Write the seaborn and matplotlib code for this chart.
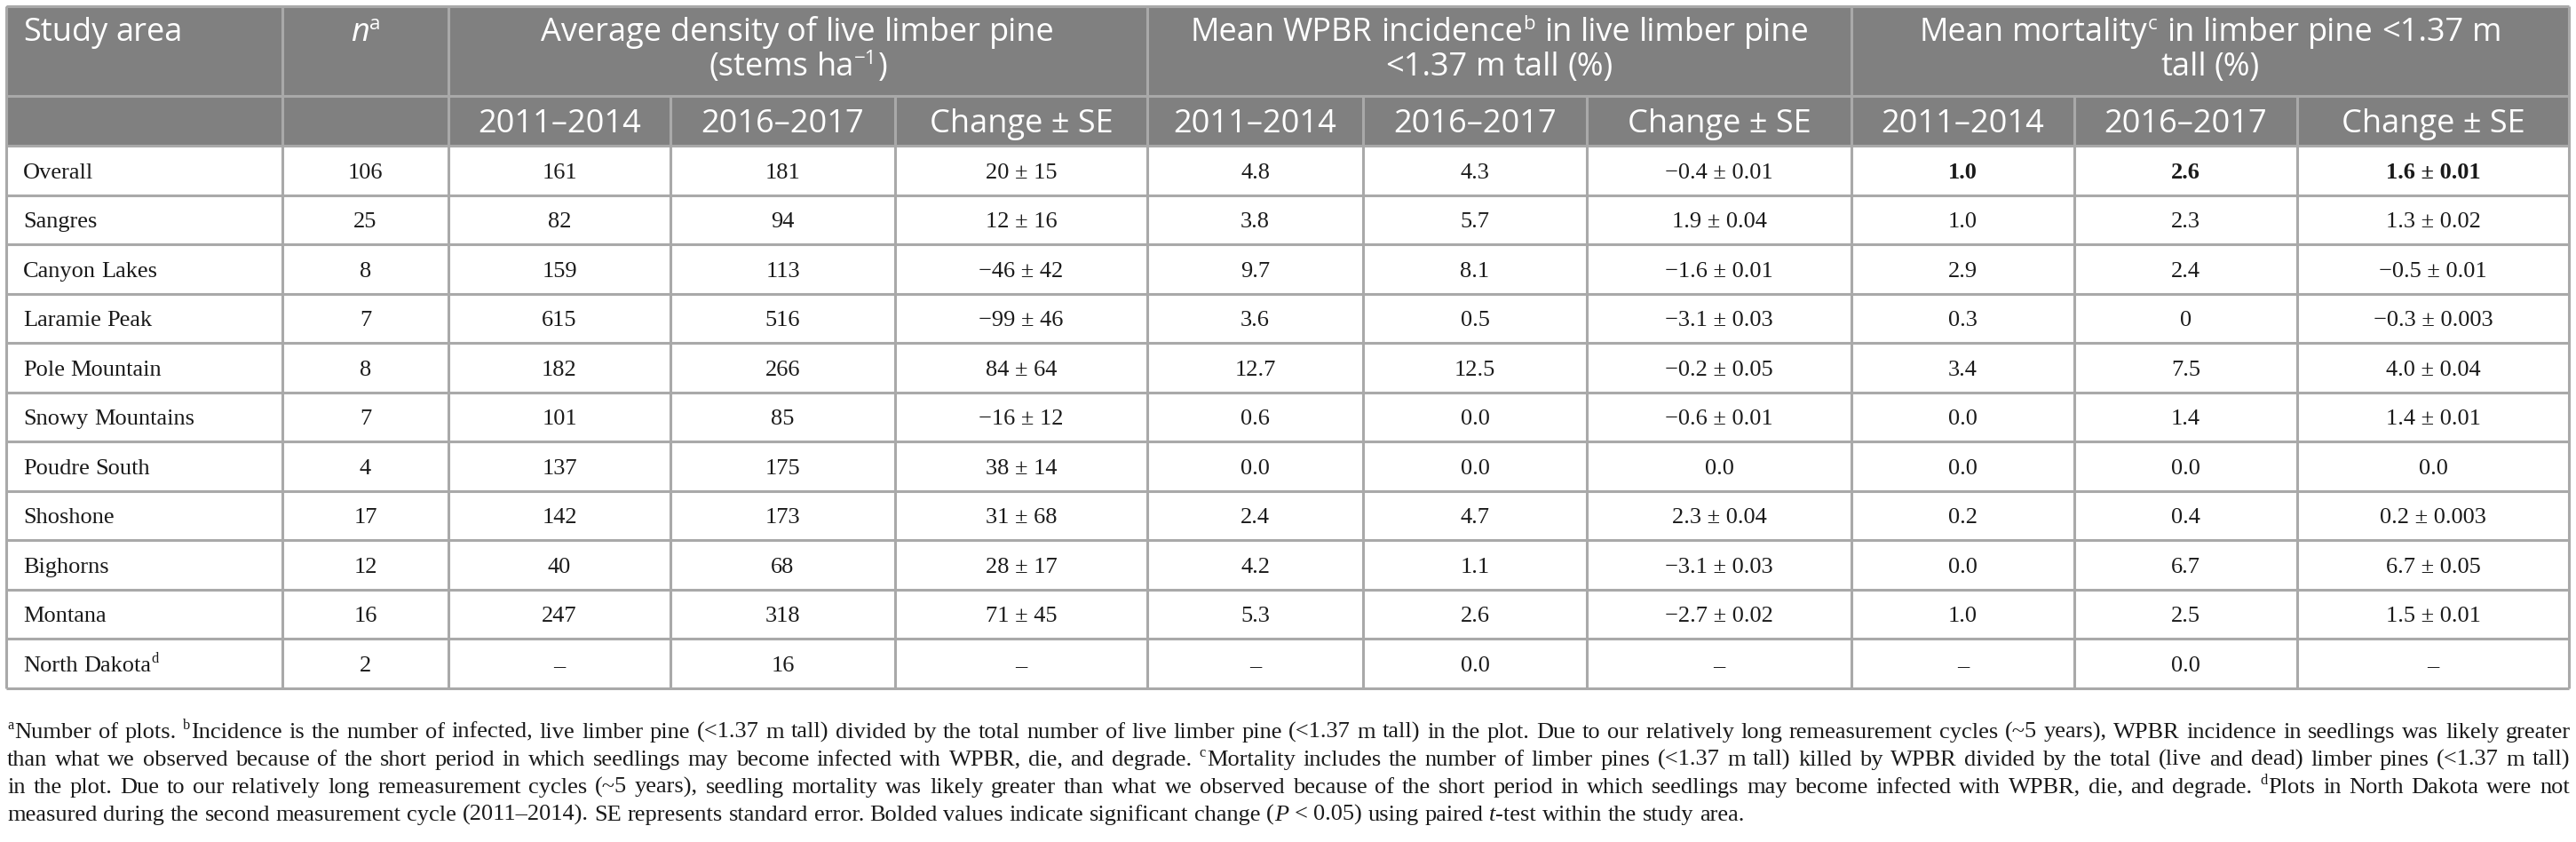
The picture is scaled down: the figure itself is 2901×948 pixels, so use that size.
import re
import numpy as np
import matplotlib
matplotlib.use('Agg')
import matplotlib.pyplot as plt
import seaborn as sns
from matplotlib.patches import Rectangle

# ---------------------------------------------------------------------------
# Data
# ---------------------------------------------------------------------------
study_areas = ['Overall', 'Sangres', 'Canyon Lakes', 'Laramie Peak', 'Pole Mountain',
               'Snowy Mountains', 'Poudre South', 'Shoshone', 'Bighorns', 'Montana',
               'North Dakota{d}']
n_plots = [106, 25, 8, 7, 8, 7, 4, 17, 12, 16, 2]

density_2011 = ['161', '82', '159', '615', '182', '101', '137', '142', '40', '247', '–']
density_2016 = ['181', '94', '113', '516', '266', '85', '175', '173', '68', '318', '16']
density_change = ['20 ± 15', '12 ± 16', '−46 ± 42', '−99 ± 46', '84 ± 64', '−16 ± 12',
                  '38 ± 14', '31 ± 68', '28 ± 17', '71 ± 45', '–']

incidence_2011 = ['4.8', '3.8', '9.7', '3.6', '12.7', '0.6', '0.0', '2.4', '4.2', '5.3', '–']
incidence_2016 = ['4.3', '5.7', '8.1', '0.5', '12.5', '0.0', '0.0', '4.7', '1.1', '2.6', '0.0']
incidence_change = ['−0.4 ± 0.01', '1.9 ± 0.04', '−1.6 ± 0.01', '−3.1 ± 0.03', '−0.2 ± 0.05',
                    '−0.6 ± 0.01', '0.0', '2.3 ± 0.04', '−3.1 ± 0.03', '−2.7 ± 0.02', '–']

mortality_2011 = ['1.0', '1.0', '2.9', '0.3', '3.4', '0.0', '0.0', '0.2', '0.0', '1.0', '–']
mortality_2016 = ['2.6', '2.3', '2.4', '0', '7.5', '1.4', '0.0', '0.4', '6.7', '2.5', '0.0']
mortality_change = ['1.6 ± 0.01', '1.3 ± 0.02', '−0.5 ± 0.01', '−0.3 ± 0.003', '4.0 ± 0.04',
                    '1.4 ± 0.01', '0.0', '0.2 ± 0.003', '6.7 ± 0.05', '1.5 ± 0.01', '–']

# (row, column) of bolded (significant) values
bold_cells = [(0, 8), (0, 9), (0, 10)]

group_headers = [
    ['Study area'],
    ['*n*{a}'],
    ['Average density of live limber pine', '(stems ha{−1})'],
    ['Mean WPBR incidence{b} in live limber pine', '<1.37 m tall (%)'],
    ['Mean mortality{c} in limber pine <1.37 m', 'tall (%)'],
]
sub_headers = ['2011–2014', '2016–2017', 'Change ± SE']

footnote_lines = [
    '{a}Number of plots. {b}Incidence is the number of infected, live limber pine (<1.37 m tall) '
    'divided by the total number of live limber pine (<1.37 m tall) in the plot. Due to our '
    'relatively long remeasurement cycles (~5 years), WPBR incidence in seedlings was likely greater',
    'than what we observed because of the short period in which seedlings may become infected with '
    'WPBR, die, and degrade. {c}Mortality includes the number of limber pines (<1.37 m tall) killed '
    'by WPBR divided by the total (live and dead) limber pines (<1.37 m tall)',
    'in the plot. Due to our relatively long remeasurement cycles (~5 years), seedling mortality was '
    'likely greater than what we observed because of the short period in which seedlings may become '
    'infected with WPBR, die, and degrade. {d}Plots in North Dakota were not',
    'measured during the second measurement cycle (2011–2014). SE represents standard error. Bolded '
    'values indicate significant change (*P* < 0.05) using paired *t*-test within the study area.',
]

# ---------------------------------------------------------------------------
# Layout (pixels)
# ---------------------------------------------------------------------------
W, H = 2901, 948
col_edges = [7, 318, 505, 755, 1008, 1292, 1535, 1787, 2085, 2336, 2587, 2893]
group_edges = [7, 318, 505, 1292, 2085, 2893]
top, head_mid, head_bot, bottom = 7, 108, 164, 775
row_edges = np.linspace(head_bot, bottom, len(study_areas) + 1)

HEAD_BG = '#808080'
LINE = '#a9a9a9'
LW = 2.2

sns.set_theme(style='white')
plt.rcParams['axes.unicode_minus'] = True

SANS = dict(fontfamily=['Open Sans', 'DejaVu Sans'], fontsize=26, color='white')
SERIF = dict(fontfamily=['Liberation Serif', 'DejaVu Serif'], fontsize=19, color='#1a1a1a')

fig = plt.figure(figsize=(W / 100, H / 100), dpi=100)
ax = fig.add_axes([0, 0, 1, 1])
ax.set_xlim(0, W)
ax.set_ylim(H, 0)
ax.axis('off')
renderer = fig.canvas.get_renderer()

TOKEN = re.compile(r'(\{[^}]*\}|\*[^*]*\*)')


def _parse_word(word):
    segs = []
    for part in TOKEN.split(word):
        if not part:
            continue
        if part.startswith('{'):
            segs.append((part[1:-1], 'sup'))
        elif part.startswith('*'):
            segs.append((part[1:-1], 'it'))
        else:
            segs.append((part, 'rm'))
    return segs


def _seg_kw(kind, base):
    kw = dict(base)
    if kind == 'sup':
        kw['fontsize'] = base['fontsize'] * 0.62
    elif kind == 'it':
        kw['fontstyle'] = 'italic'
    return kw


def _measure(text, kw):
    t = ax.text(0, 0, text, **kw)
    w = t.get_window_extent(renderer).width
    t.remove()
    return w


def rich_line(line, x, y, base, ha='left', width=None, draw=True):
    """Rysuje linię tekstu ze słowami złożonymi z segmentów (indeks górny, kursywa)."""
    words = [_parse_word(w) for w in line.split(' ')]
    widths = [[_measure(t, _seg_kw(k, base)) for t, k in w] for w in words]
    word_w = [sum(ws) for ws in widths]
    space = _measure('x x', base) - _measure('xx', base)
    natural = sum(word_w) + space * (len(words) - 1)
    if not draw:
        return natural
    if width is not None and len(words) > 1:
        space = (width - sum(word_w)) / (len(words) - 1)
    total = sum(word_w) + space * (len(words) - 1)
    x0 = x if ha == 'left' else x - total / 2
    em = base['fontsize'] * 100 / 72
    for w, ws in zip(words, widths):
        for (t, k), sw in zip(w, ws):
            yy = y - 0.36 * em if k == 'sup' else y
            ax.text(x0, yy, t, ha='left', va='baseline', **_seg_kw(k, base))
            x0 += sw + (1 if k == 'sup' else 0)
        x0 += space
    return natural


# ---------------------------------------------------------------------------
# Header
# ---------------------------------------------------------------------------
ax.add_patch(Rectangle((top, top), col_edges[-1] - col_edges[0], head_bot - top,
                       facecolor=HEAD_BG, edgecolor='none'))

head_em = SANS['fontsize'] * 100 / 72
cap_sans = 0.714 * head_em
for g, lines in enumerate(group_headers):
    x_left, x_right = group_edges[g], group_edges[g + 1]
    for j, line in enumerate(lines):
        base_y = 33 + j * 39 + cap_sans / 2
        if g == 0:
            rich_line(line, x_left + 19, base_y, SANS, ha='left')
        else:
            rich_line(line, (x_left + x_right) / 2, base_y, SANS, ha='center')

for c in range(2, len(col_edges) - 1):
    xc = (col_edges[c] + col_edges[c + 1]) / 2
    ax.text(xc, (head_mid + head_bot) / 2 + cap_sans / 2, sub_headers[(c - 2) % 3],
            ha='center', va='baseline', **SANS)

# ---------------------------------------------------------------------------
# Body
# ---------------------------------------------------------------------------
columns = [density_2011, density_2016, density_change,
           incidence_2011, incidence_2016, incidence_change,
           mortality_2011, mortality_2016, mortality_change]

data_em = SERIF['fontsize'] * 100 / 72
cap_serif = 0.662 * data_em
for i, area in enumerate(study_areas):
    yb = (row_edges[i] + row_edges[i + 1]) / 2 + cap_serif / 2
    rich_line(area, 26, yb, SERIF, ha='left')
    ax.text((col_edges[1] + col_edges[2]) / 2, yb, str(n_plots[i]),
            ha='center', va='baseline', **SERIF)
    for c, values in enumerate(columns):
        col = c + 2
        xc = (col_edges[col] + col_edges[col + 1]) / 2
        weight = 'bold' if (i, col) in bold_cells else 'normal'
        ax.text(xc, yb, values[i], ha='center', va='baseline', fontweight=weight, **SERIF)

# ---------------------------------------------------------------------------
# Grid lines
# ---------------------------------------------------------------------------
ax.hlines([top, head_mid, *row_edges], col_edges[0], col_edges[-1], color=LINE, lw=LW)
ax.vlines(group_edges, top, bottom, color=LINE, lw=LW)
ax.vlines([x for x in col_edges if x not in group_edges], head_mid, bottom, color=LINE, lw=LW)

# ---------------------------------------------------------------------------
# Footnote (justified)
# ---------------------------------------------------------------------------
foot_width = col_edges[-1] - 8
probe = dict(fontfamily=['Liberation Serif', 'DejaVu Serif'], fontsize=10, color='#1a1a1a')
nat = [rich_line(l, 0, 0, probe, draw=False) for l in footnote_lines]
fs = 10 * foot_width * 0.985 / max(nat[:-1])
FOOT = dict(probe, fontsize=fs)
foot_cap = 0.662 * fs * 100 / 72
for k, line in enumerate(footnote_lines):
    yb = 822 + k * 31 + foot_cap / 2
    width = None if k == len(footnote_lines) - 1 else foot_width
    rich_line(line, 8, yb, FOOT, ha='left', width=width)

fig.savefig('out.png', dpi=100, facecolor='white')
plt.close(fig)
